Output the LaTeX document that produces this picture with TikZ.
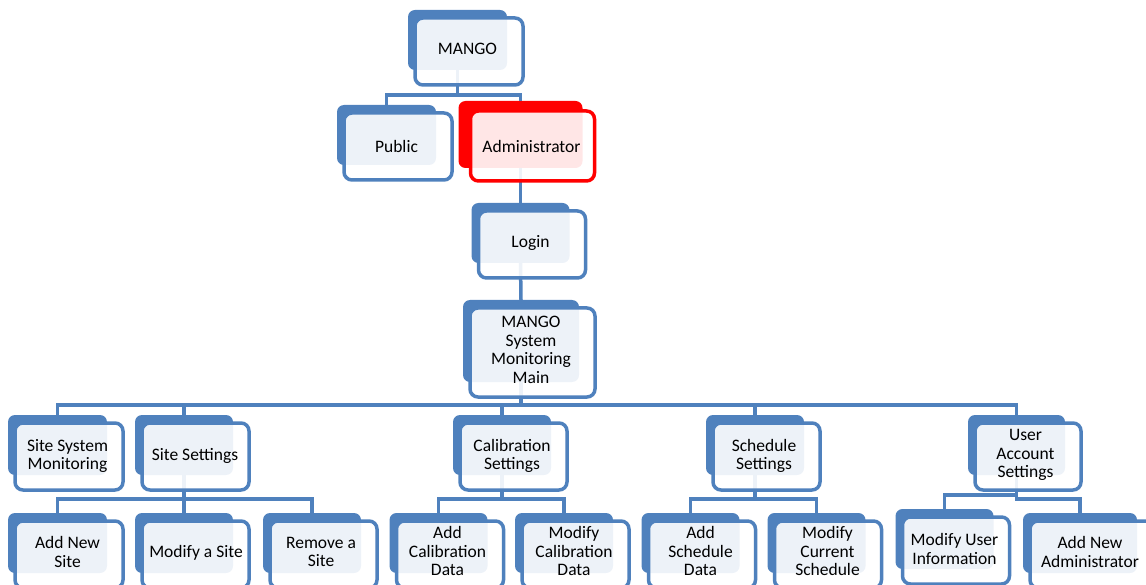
\documentclass[tikz,border=0pt]{standalone}
\usepackage{fontspec}
\setmainfont{Carlito}
\definecolor{smblue}{HTML}{4F81BD}
\definecolor{smred}{HTML}{FF0000}
\begin{document}
\begin{tikzpicture}[x=1pt,y=-1pt,
  back/.style={rectangle, fill=smblue, rounded corners=7pt, inner sep=0pt, outer sep=0pt,
               minimum width=98pt, minimum height=60pt},
  frontbox/.style={draw=smblue, line width=3.5pt, rounded corners=8pt, fill=white, fill opacity=0.9},
  conn/.style={draw=smblue, line width=3.5pt},
  lbl/.style={align=center, font=\fontsize{17.5pt}{18.5pt}\selectfont, text=black, inner sep=0pt}]
\useasboundingbox (0,0) rectangle (1146,585);

% back panels (tree nodes)
\node[back, minimum width=99pt] (mango) at (457.5,40) {};
\node[back, minimum width=99pt] (public) at (386.5,135) {};
\node[back, fill=smred, minimum width=124pt, minimum height=67pt] (admin) at (520.5,134.5) {};
\node[back] (login) at (520.5,233) {};
\node[back, minimum width=116pt, minimum height=82pt] (mainsys) at (521,341) {};
% second level
\node[back, minimum width=99pt] (ssm) at (57.5,445) {};
\node[back] (sset) at (184,445) {};
\node[back] (cal) at (502,445) {};
\node[back] (sched) at (755,445) {};
\node[back, minimum width=97pt] (uacc) at (1016.5,445) {};
% third level
\node[back, minimum width=99pt] (addsite) at (57.5,543) {};
\node[back] (modsite) at (184,543) {};
\node[back] (remsite) at (312,543) {};
\node[back] (addcal) at (438.5,543) {};
\node[back] (modcal) at (564,543) {};
\node[back] (addsch) at (690.5,543) {};
\node[back] (modsch) at (816.5,543) {};
\node[back] (moduser) at (944.5,539) {};
\node[back, minimum width=114pt] (addadmin) at (1080,543) {};

% connectors
\draw[conn] (mango.south) -- ++(0,25) -| (public.north);
\draw[conn] (mango.south) -- ++(0,25) -| (admin.north);
\draw[conn] (admin.south) -- (login.north);
\draw[conn] (login.south) -- (mainsys.north);
\foreach \c in {ssm,sset,cal,sched,uacc}
  \draw[conn] (mainsys.south) -- ++(0,23) -| (\c.north);
\foreach \c in {addsite,modsite,remsite}
  \draw[conn] (sset.south) -- ++(0,24) -| (\c.north);
\foreach \c in {addcal,modcal}
  \draw[conn] (cal.south) -- ++(0,24) -| (\c.north);
\foreach \c in {addsch,modsch}
  \draw[conn] (sched.south) -- ++(0,24) -| (\c.north);
\draw[conn] (uacc.south) -- ++(0,20) -| (moduser.north);
\draw[conn] (uacc.south) -- ++(0,24) -| (addadmin.north);

% front frames
\foreach \n in {mango,public,login,mainsys,ssm,sset,cal,sched,uacc,
                addsite,modsite,remsite,addcal,modcal,addsch,modsch,moduser,addadmin}
  \draw[frontbox] ([shift={(7,8)}]\n.north west) rectangle ([shift={(16,15)}]\n.south east);
\draw[frontbox, draw=smred] ([shift={(12,10)}]admin.north west) rectangle ([shift={(12,13)}]admin.south east);

% labels
\node[lbl] (mango-l) at ([shift={(10,9)}]mango.center) {MANGO};
\node[lbl] (public-l) at ([shift={(10,11)}]public.center) {Public};
\node[lbl] (admin-l) at ([shift={(11,12)}]admin.center) {Administrator};
\node[lbl] (login-l) at ([shift={(10,10)}]login.center) {Login};
\node[lbl] (mainsys-l) at ([shift={(10,9)}]mainsys.center) {MANGO\\System\\Monitoring\\Main};
\node[lbl] (ssm-l) at ([shift={(10,11)}]ssm.center) {Site System\\Monitoring};
\node[lbl] (sset-l) at ([shift={(11,11)}]sset.center) {Site Settings};
\node[lbl] (cal-l) at ([shift={(10,11)}]cal.center) {Calibration\\Settings};
\node[lbl] (sched-l) at ([shift={(9,11)}]sched.center) {Schedule\\Settings};
\node[lbl] (uacc-l) at ([shift={(9,10)}]uacc.center) {User\\Account\\Settings};
\node[lbl] (addsite-l) at ([shift={(10,9)}]addsite.center) {Add New\\Site};
\node[lbl] (modsite-l) at ([shift={(12,10)}]modsite.center) {Modify a Site};
\node[lbl] (remsite-l) at ([shift={(9,9)}]remsite.center) {Remove a\\Site};
\node[lbl] (addcal-l) at ([shift={(9,8)}]addcal.center) {Add\\Calibration\\Data};
\node[lbl] (modcal-l) at ([shift={(10,8)}]modcal.center) {Modify\\Calibration\\Data};
\node[lbl] (addsch-l) at ([shift={(10,8)}]addsch.center) {Add\\Schedule\\Data};
\node[lbl] (modsch-l) at ([shift={(11,8)}]modsch.center) {Modify\\Current\\Schedule};
\node[lbl] (moduser-l) at ([shift={(10,10)}]moduser.center) {Modify User\\Information};
\node[lbl] (addadmin-l) at ([shift={(10,9)}]addadmin.center) {Add New\\Administrator};
\end{tikzpicture}
\end{document}
